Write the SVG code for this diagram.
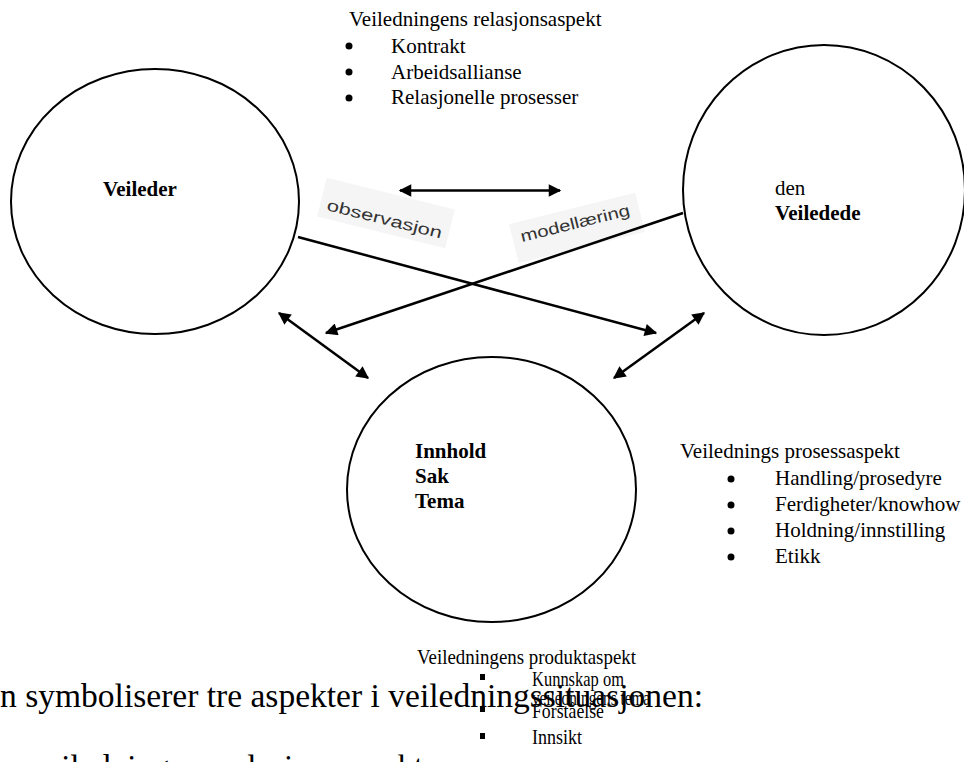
<svg xmlns="http://www.w3.org/2000/svg" width="964" height="762" viewBox="0 0 964 762">
<style>
.c{fill:none;stroke:#000;stroke-width:2}
.t{font-family:"Liberation Serif","Times New Roman",serif;font-size:21px;fill:#000}
.b{font-weight:bold}
.big{font-family:"Liberation Serif","Times New Roman",serif;font-size:33px;fill:#000}
.l{stroke:#000;stroke-width:2.5;fill:none}
.img{font-family:"Liberation Sans",Arial,sans-serif;font-size:16px;fill:#333}
</style>
<defs>
<marker id="ah" viewBox="0 0 10 10" refX="9" refY="5" markerWidth="6" markerHeight="5" markerUnits="strokeWidth" orient="auto-start-reverse">
<path d="M0,0 L10,5 L0,10 z" fill="#000"/>
</marker>
</defs>
<rect width="964" height="762" fill="#fff"/>

<g id="label-observasjon">
<rect x="320" y="193" width="132" height="40" fill="#f5f5f5" transform="rotate(14 386 213)"/>
<text class="img" x="326" y="210" textLength="118" lengthAdjust="spacingAndGlyphs" transform="rotate(14 326 210)">observasjon</text>
</g>
<g id="label-modellaering">
<rect x="512" y="208" width="130" height="40" fill="#f5f5f5" transform="rotate(-14 577 228)"/>
<text class="img" x="522" y="242" textLength="112" lengthAdjust="spacingAndGlyphs" transform="rotate(-14 522 242)">modellæring</text>
</g>

<g id="connectors">
<line class="l" x1="400" y1="190.5" x2="560" y2="190.5" marker-start="url(#ah)" marker-end="url(#ah)"/>
<line class="l" x1="298" y1="237" x2="656" y2="333" marker-end="url(#ah)"/>
<line class="l" x1="683" y1="213" x2="326" y2="333" marker-end="url(#ah)"/>
<line class="l" x1="279" y1="313" x2="368" y2="378" marker-start="url(#ah)" marker-end="url(#ah)"/>
<line class="l" x1="704" y1="313" x2="614" y2="378" marker-start="url(#ah)" marker-end="url(#ah)"/>
</g>

<g id="veileder">
<ellipse class="c" cx="155" cy="201.5" rx="144" ry="132.5"/>
<text class="t b" x="103" y="196">Veileder</text>
</g>

<g id="veiledede">
<ellipse class="c" cx="824" cy="190" rx="141" ry="145"/>
<text class="t" x="775" y="195">den</text>
<text class="t b" x="775" y="220">Veiledede</text>
</g>

<g id="innhold">
<ellipse class="c" cx="491.5" cy="489.5" rx="144.5" ry="132.5"/>
<text class="t b" x="415" y="458">Innhold</text>
<text class="t b" x="415" y="483">Sak</text>
<text class="t b" x="415" y="508">Tema</text>
</g>

<g id="relasjonsaspekt">
<text class="t" x="349" y="26">Veiledningens relasjonsaspekt</text>
<circle cx="349" cy="46" r="3.5"/>
<circle cx="349" cy="72" r="3.5"/>
<circle cx="349" cy="98" r="3.5"/>
<text class="t" x="391" y="53">Kontrakt</text>
<text class="t" x="391" y="79">Arbeidsallianse</text>
<text class="t" x="391" y="104">Relasjonelle prosesser</text>
</g>

<g id="prosessaspekt">
<text class="t" x="680" y="458">Veilednings prosessaspekt</text>
<circle cx="731" cy="479" r="3.5"/>
<circle cx="731" cy="505" r="3.5"/>
<circle cx="731" cy="531" r="3.5"/>
<circle cx="731" cy="557" r="3.5"/>
<text class="t" x="775" y="485">Handling/prosedyre</text>
<text class="t" x="775" y="511">Ferdigheter/knowhow</text>
<text class="t" x="775" y="537">Holdning/innstilling</text>
<text class="t" x="775" y="563">Etikk</text>
</g>

<g id="body-text">
<text class="big" x="0" y="707" textLength="703" lengthAdjust="spacingAndGlyphs">n symboliserer tre aspekter i veiledningssituasjonen:</text>
<text class="big" x="30" y="778">veiledningens relasjonsaspekt</text>
</g>

<g id="produktaspekt">
<text class="t" x="417" y="664" textLength="219" lengthAdjust="spacingAndGlyphs">Veiledningens produktaspekt</text>
<rect x="480" y="674" width="5" height="6"/>
<rect x="480" y="706" width="5" height="6"/>
<rect x="480" y="733" width="5" height="6"/>
<text class="t" x="532" y="686" textLength="92" lengthAdjust="spacingAndGlyphs">Kunnskap om</text>
<text class="t" x="532" y="705" textLength="118" lengthAdjust="spacingAndGlyphs">veiledningens tema</text>
<text class="t" x="532" y="718" textLength="72" lengthAdjust="spacingAndGlyphs">Forståelse</text>
<text class="t" x="532" y="744" textLength="50" lengthAdjust="spacingAndGlyphs">Innsikt</text>
</g>
</svg>
